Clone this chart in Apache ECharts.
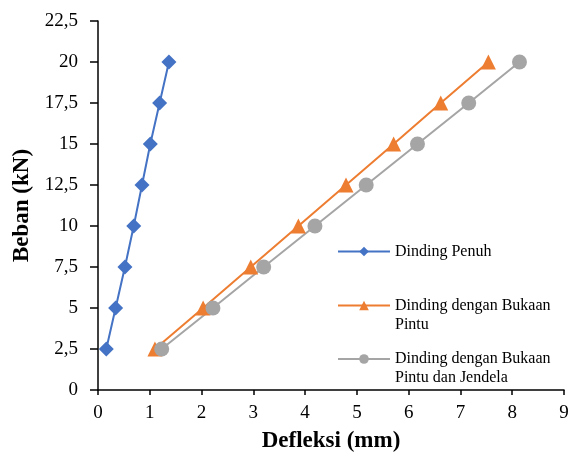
<!DOCTYPE html>
<html>
<head>
<meta charset="utf-8">
<script src="https://cdn.jsdelivr.net/npm/echarts@6/dist/echarts.min.js"></script>
<style>
  html, body { margin: 0; padding: 0; background: #fff; }
  #chart { width: 568px; height: 452px; }
</style>
</head>
<body>
<div id="chart"></div>
<script>
// beban (kN) vs defleksi (mm)
const loads = [2.5, 5, 7.5, 10, 12.5, 15, 17.5, 20]
const penuh = [0.16, 0.34, 0.52, 0.69, 0.85, 1.01, 1.19, 1.37]
const bukaanPintu = [1.10, 2.03, 2.95, 3.87, 4.79, 5.71, 6.62, 7.54]
const bukaanPintuJendela = [1.23, 2.22, 3.20, 4.19, 5.18, 6.17, 7.16, 8.14]
const seriesNames = ['Dinding Penuh', 'Dinding dengan Bukaan Pintu', 'Dinding dengan Bukaan Pintu dan Jendela']

const font = 'Liberation Serif'
const pairs = (xs) => xs.map((x, i) => [x, loads[i]])

const chart = echarts.init(document.getElementById('chart'))

const legendBase = {
  orient: 'vertical',
  left: 337,
  padding: 0,
  itemWidth: 52,
  itemHeight: 12,
  textStyle: { fontFamily: font, fontSize: 16, color: '#000', lineHeight: 19 },
  // two-line names: blank first line keeps the icon beside the first line
  formatter: name => name.indexOf('Bukaan ') > -1 ? '\n' + name.replace('Bukaan ', 'Bukaan\n') : name
}

chart.setOption({
  animation: false,
  textStyle: { fontFamily: font },
  grid: { left: 98, right: 4, top: 21, bottom: 62, outerBoundsMode: 'none' },
  legend: [
    Object.assign({}, legendBase, { top: 242, data: [seriesNames[0]] }),
    Object.assign({}, legendBase, { top: 277, data: [seriesNames[1]] }),
    Object.assign({}, legendBase, { top: 330.5, data: [seriesNames[2]] })
  ],
  xAxis: {
    type: 'value',
    min: 0,
    max: 9,
    interval: 1,
    name: 'Defleksi (mm)',
    nameLocation: 'middle',
    nameGap: 40,
    nameTextStyle: { fontFamily: font, fontSize: 23, fontWeight: 'bold', color: '#000' },
    axisLine: { lineStyle: { color: '#000', width: 1.5 } },
    axisTick: { show: true, length: 5, lineStyle: { color: '#000', width: 1.5 } },
    axisLabel: { fontFamily: font, fontSize: 19, color: '#000', margin: 14 },
    splitLine: { show: false }
  },
  yAxis: {
    type: 'value',
    min: 0,
    max: 22.5,
    interval: 2.5,
    name: 'Beban (kN)',
    nameLocation: 'middle',
    nameGap: 60,
    nameTextStyle: { fontFamily: font, fontSize: 23, fontWeight: 'bold', color: '#000' },
    axisLine: { show: true, lineStyle: { color: '#000', width: 1.5 } },
    axisTick: { show: true, length: 8, lineStyle: { color: '#000', width: 1.5 } },
    axisLabel: {
      fontFamily: font, fontSize: 19, color: '#000', margin: 20,
      formatter: v => String(v).replace('.', ',')
    },
    splitLine: { show: false }
  },
  series: [
    {
      name: seriesNames[0],
      type: 'line',
      data: pairs(penuh),
      symbol: 'diamond',
      symbolSize: 15,
      color: '#4472C4',
      lineStyle: { width: 2 }
    },
    {
      name: seriesNames[1],
      type: 'line',
      data: pairs(bukaanPintu),
      symbol: 'triangle',
      symbolSize: 15,
      color: '#ED7D31',
      lineStyle: { width: 2 }
    },
    {
      name: seriesNames[2],
      type: 'line',
      data: pairs(bukaanPintuJendela),
      symbol: 'circle',
      symbolSize: 15,
      color: '#A5A5A5',
      lineStyle: { width: 2 }
    }
  ]
})
</script>
</body>
</html>
